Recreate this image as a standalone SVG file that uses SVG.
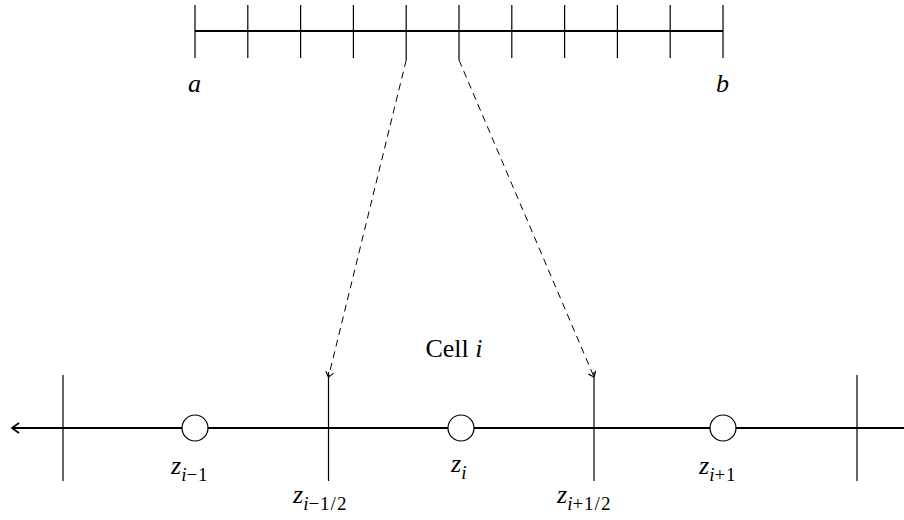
<svg xmlns="http://www.w3.org/2000/svg" width="904" height="520" viewBox="0 0 904 520">
<style>
.ax{stroke:#000;stroke-width:2;fill:none}
.tk{stroke:#000;stroke-width:1.2;fill:none}
.ds{stroke:#000;stroke-width:1;fill:none;stroke-dasharray:7,5}
.pt{stroke:#000;stroke-width:1.2;fill:#fff}
.m{font-family:"Liberation Serif","DejaVu Serif",serif;font-style:italic;font-size:26px;fill:#000}
.r{font-family:"Liberation Serif","DejaVu Serif",serif;font-size:26px;fill:#000}
.s{font-size:19px}
.n{font-style:normal;letter-spacing:1px}
</style>
<defs>
<marker id="to" viewBox="-6 -5 8 10" markerWidth="8" markerHeight="10" refX="0" refY="0" orient="auto" markerUnits="userSpaceOnUse">
<path d="M-5,-4 Q-1,-1 0,0 Q-1,1 -5,4" stroke="#000" stroke-width="1.1" fill="none"/>
</marker>
<marker id="to2" viewBox="-8 -6 10 12" markerWidth="10" markerHeight="12" refX="0" refY="0" orient="auto" markerUnits="userSpaceOnUse">
<path d="M-7,-5 Q-1.5,-1 0,0 Q-1.5,1 -7,5" stroke="#000" stroke-width="1.6" fill="none"/>
</marker>
</defs>
<g id="domain">
<line class="ax" x1="195" y1="31" x2="723" y2="31"/>
<path class="tk" d="M195,5V58M247.8,5V58M300.6,5V58M353.4,5V58M406.2,5V60M459,5V60M511.8,5V58M564.6,5V58M617.4,5V58M670.2,5V58M723,5V58"/>
<text class="m" x="188" y="92">a</text>
<text class="m" x="716" y="92">b</text>
</g>
<g id="connectors">
<line class="ds" x1="406.2" y1="60" x2="328.5" y2="377" marker-end="url(#to)"/>
<line class="ds" x1="459" y1="60" x2="594" y2="377" marker-end="url(#to)"/>
</g>
<g id="cell-axis">
<line class="ax" x1="904" y1="428" x2="12" y2="428" marker-end="url(#to2)"/>
<path class="tk" d="M63,375V481M328.5,372V481M594,372V481M857,375V481"/>
</g>
<g id="cell-label"><text class="r" x="454" y="357" text-anchor="middle">Cell <tspan font-style="italic">i</tspan></text></g>
<g id="z-im1"><circle class="pt" cx="195" cy="428" r="13"/><text class="m" x="171" y="474">z<tspan class="s" dy="7">i</tspan><tspan class="s n">−1</tspan></text></g>
<g id="z-i"><circle class="pt" cx="461" cy="428" r="13"/><text class="m" x="451" y="472">z<tspan class="s" dy="7">i</tspan></text></g>
<g id="z-ip1"><circle class="pt" cx="723" cy="428" r="13"/><text class="m" x="699" y="474">z<tspan class="s" dy="7">i</tspan><tspan class="s n">+1</tspan></text></g>
<g id="z-imh"><text class="m" x="293" y="503">z<tspan class="s" dy="7">i</tspan><tspan class="s n">−1/2</tspan></text></g>
<g id="z-iph"><text class="m" x="557" y="503">z<tspan class="s" dy="7">i</tspan><tspan class="s n">+1/2</tspan></text></g>
</svg>
